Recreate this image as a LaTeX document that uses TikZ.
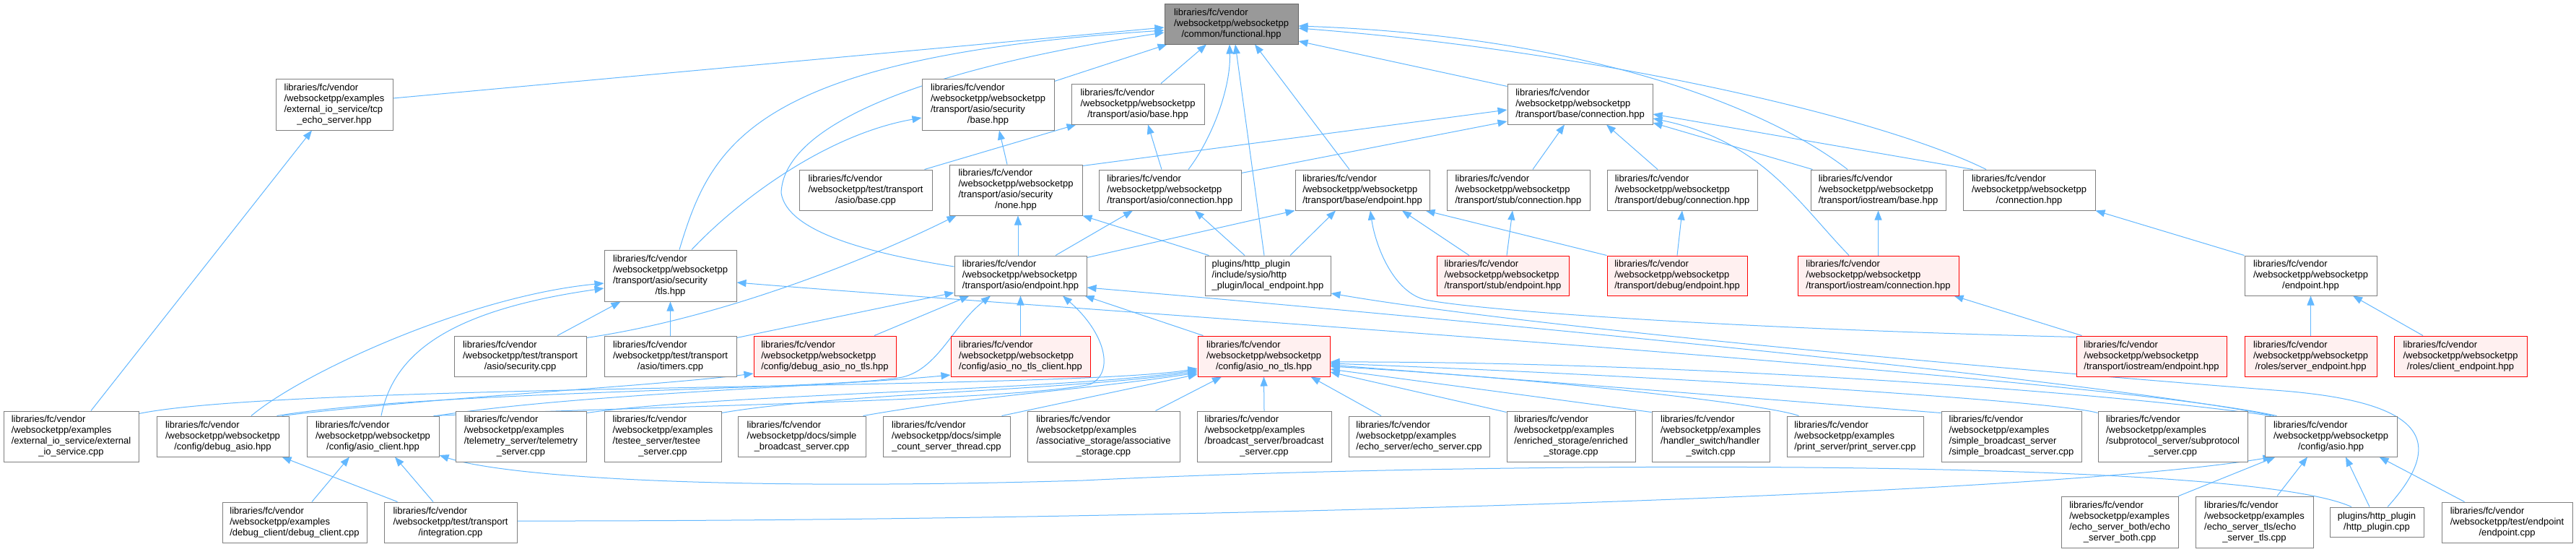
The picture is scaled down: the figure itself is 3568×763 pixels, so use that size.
\documentclass[tikz,border=0pt]{standalone}
\usepackage{fontspec}
\setmainfont{Liberation Sans}
\usetikzlibrary{arrows.meta}
\definecolor{edgeblue}{HTML}{63B8FF}
\definecolor{boxgray}{HTML}{7F7F7F}
\definecolor{topfill}{HTML}{999999}
\definecolor{topdraw}{HTML}{666666}
\definecolor{redfill}{HTML}{FFF0F0}
\definecolor{reddraw}{HTML}{FF0000}
\newcommand\lab[2]{\begin{tabular}{@{}l@{}}#1\\\multicolumn{1}{@{}c@{}}{#2}\end{tabular}}
\newcommand\nd[7]{\node[#1, minimum width={#4-#2}, minimum height={#5-#3}] (#6) at ({(#2+#4)/2},{(#3+#5)/2}) {#7};}
\newcommand\fcV{libraries/fc/vendor}
\newcommand\wsW{/websocketpp/websocketpp}
\newcommand\wsE{/websocketpp/examples}
\pgfdeclarelayer{bg}
\pgfsetlayers{bg,main}
\begin{document}
\begin{tikzpicture}[x=1pt,y=-1pt,
  box/.style={draw=boxgray, fill=white, line width=1pt, inner sep=0pt, font=\fontsize{13}{15}\selectfont},
  redbox/.style={box, draw=reddraw, fill=redfill},
  topbox/.style={box, draw=topdraw, fill=topfill},
  e/.style={draw=edgeblue, line width=1pt, -{Triangle[length=13pt,width=10pt]}}]
\useasboundingbox (0,0) rectangle (3568,763);
\begin{pgfonlayer}{bg}
\fill[white] (0,0) rectangle (3568,763);
\end{pgfonlayer}
% row 1
\nd{topbox}{1613}{5}{1798}{61}{fun}{\lab{\fcV\\\wsW}{/common/functional.hpp}}
% row 2
\nd{box}{382}{109}{544}{180}{tcp}{\lab{\fcV\\\wsE\\/external\_io\_service/tcp}{\_echo\_server.hpp}}
\nd{box}{1277}{109}{1460}{180}{secbase}{\lab{\fcV\\\wsW\\/transport/asio/security}{/base.hpp}}
\nd{box}{1484}{116}{1668}{172}{asiobase}{\lab{\fcV\\\wsW}{/transport/asio/base.hpp}}
\nd{box}{2088}{116}{2289}{172}{baseconn}{\lab{\fcV\\\wsW}{/transport/base/connection.hpp}}
% row 3
\nd{box}{1107}{235}{1291}{291}{basecpp}{\lab{\fcV\\/websocketpp/test/transport}{/asio/base.cpp}}
\nd{box}{1315}{228}{1499}{298}{none}{\lab{\fcV\\\wsW\\/transport/asio/security}{/none.hpp}}
\nd{box}{1522}{235}{1719}{291}{asioconn}{\lab{\fcV\\\wsW}{/transport/asio/connection.hpp}}
\nd{box}{1794}{235}{1980}{291}{baseep}{\lab{\fcV\\\wsW}{/transport/base/endpoint.hpp}}
\nd{box}{2004}{235}{2202}{291}{stubconn}{\lab{\fcV\\\wsW}{/transport/stub/connection.hpp}}
\nd{box}{2226}{235}{2434}{291}{debugconn}{\lab{\fcV\\\wsW}{/transport/debug/connection.hpp}}
\nd{box}{2508}{235}{2695}{291}{iosbase}{\lab{\fcV\\\wsW}{/transport/iostream/base.hpp}}
\nd{box}{2719}{235}{2902}{291}{conn}{\lab{\fcV\\\wsW}{/connection.hpp}}
% row 4
\nd{box}{837}{346}{1020}{417}{tls}{\lab{\fcV\\\wsW\\/transport/asio/security}{/tls.hpp}}
\nd{box}{1322}{354}{1505}{409}{asioep}{\lab{\fcV\\\wsW}{/transport/asio/endpoint.hpp}}
\nd{box}{1669}{354}{1843}{409}{localep}{\lab{plugins/http\_plugin\\/include/sysio/http}{\_plugin/local\_endpoint.hpp}}
\nd{redbox}{1990}{354}{2173}{409}{stubep}{\lab{\fcV\\\wsW}{/transport/stub/endpoint.hpp}}
\nd{redbox}{2226}{354}{2420}{409}{debugep}{\lab{\fcV\\\wsW}{/transport/debug/endpoint.hpp}}
\nd{redbox}{2490}{354}{2713}{409}{iosconn}{\lab{\fcV\\\wsW}{/transport/iostream/connection.hpp}}
\nd{box}{3109}{354}{3292}{409}{endpoint}{\lab{\fcV\\\wsW}{/endpoint.hpp}}
% row 5
\nd{box}{629}{465}{812}{521}{secpp}{\lab{\fcV\\/websocketpp/test/transport}{/asio/security.cpp}}
\nd{box}{837}{465}{1020}{521}{timers}{\lab{\fcV\\/websocketpp/test/transport}{/asio/timers.cpp}}
\nd{redbox}{1044}{465}{1241}{521}{dbgnotls}{\lab{\fcV\\\wsW}{/config/debug\_asio\_no\_tls.hpp}}
\nd{redbox}{1317}{465}{1510}{521}{notlscl}{\lab{\fcV\\\wsW}{/config/asio\_no\_tls\_client.hpp}}
\nd{redbox}{1659}{465}{1842}{521}{notls}{\lab{\fcV\\\wsW}{/config/asio\_no\_tls.hpp}}
\nd{redbox}{2876}{465}{3084}{521}{iosep}{\lab{\fcV\\\wsW}{/transport/iostream/endpoint.hpp}}
\nd{redbox}{3109}{465}{3292}{521}{srvep}{\lab{\fcV\\\wsW}{/roles/server\_endpoint.hpp}}
\nd{redbox}{3316}{465}{3500}{521}{cliep}{\lab{\fcV\\\wsW}{/roles/client\_endpoint.hpp}}
% row 6
\nd{box}{5}{569}{192}{639}{extio}{\lab{\fcV\\\wsE\\/external\_io\_service/external}{\_io\_service.cpp}}
\nd{box}{217}{576}{400}{632}{dbgasio}{\lab{\fcV\\\wsW}{/config/debug\_asio.hpp}}
\nd{box}{425}{576}{608}{632}{asiocl}{\lab{\fcV\\\wsW}{/config/asio\_client.hpp}}
\nd{box}{631}{569}{812}{639}{telem}{\lab{\fcV\\\wsE\\/telemetry\_server/telemetry}{\_server.cpp}}
\nd{box}{837}{569}{999}{639}{testee}{\lab{\fcV\\\wsE\\/testee\_server/testee}{\_server.cpp}}
\nd{box}{1022}{576}{1199}{632}{docsbs}{\lab{\fcV\\/websocketpp/docs/simple}{\_broadcast\_server.cpp}}
\nd{box}{1223}{576}{1399}{632}{scst}{\lab{\fcV\\/websocketpp/docs/simple}{\_count\_server\_thread.cpp}}
\nd{box}{1423}{569}{1634}{639}{assoc}{\lab{\fcV\\\wsE\\/associative\_storage/associative}{\_storage.cpp}}
\nd{box}{1658}{569}{1844}{639}{bcast}{\lab{\fcV\\\wsE\\/broadcast\_server/broadcast}{\_server.cpp}}
\nd{box}{1868}{576}{2063}{632}{echo}{\lab{\fcV\\\wsE}{/echo\_server/echo\_server.cpp}}
\nd{box}{2087}{569}{2265}{639}{enrich}{\lab{\fcV\\\wsE\\/enriched\_storage/enriched}{\_storage.cpp}}
\nd{box}{2288}{569}{2451}{639}{handler}{\lab{\fcV\\\wsE\\/handler\_switch/handler}{\_switch.cpp}}
\nd{box}{2475}{576}{2664}{632}{print}{\lab{\fcV\\\wsE}{/print\_server/print\_server.cpp}}
\nd{box}{2689}{569}{2883}{639}{sbs}{\lab{\fcV\\\wsE\\/simple\_broadcast\_server}{/simple\_broadcast\_server.cpp}}
\nd{box}{2906}{569}{3113}{639}{subp}{\lab{\fcV\\\wsE\\/subprotocol\_server/subprotocol}{\_server.cpp}}
\nd{box}{3137}{576}{3320}{632}{asio}{\lab{\fcV\\\wsW}{/config/asio.hpp}}
% row 7
\nd{box}{308}{695}{508}{751}{dbgcl}{\lab{\fcV\\\wsE}{/debug\_client/debug\_client.cpp}}
\nd{box}{532}{695}{716}{751}{integ}{\lab{\fcV\\/websocketpp/test/transport}{/integration.cpp}}
\nd{box}{2855}{687}{3017}{758}{both}{\lab{\fcV\\\wsE\\/echo\_server\_both/echo}{\_server\_both.cpp}}
\nd{box}{3041}{687}{3204}{758}{tlscpp}{\lab{\fcV\\\wsE\\/echo\_server\_tls/echo}{\_server\_tls.cpp}}
\nd{box}{3227}{702}{3357}{743}{httpcpp}{\lab{plugins/http\_plugin}{/http\_plugin.cpp}}
\nd{box}{3382}{695}{3563}{751}{epcpp}{\lab{\fcV\\/websocketpp/test/endpoint}{/endpoint.cpp}}
% bend points
\coordinate (k11) at (1082,267);
\coordinate (k32) at (1975,415);
\coordinate (k52) at (1250,522);
\coordinate (k53) at (1510,532);
\coordinate (k72) at (1500,665);
\coordinate (k78) at (3150,540);
\begin{pgfonlayer}{bg}
% into functional
\draw[e] ([yshift=8.5pt]tcp.east) -- ([yshift=-5pt]fun.west);
\draw[e] ([xshift=12.5pt]tls.north) .. controls (985,200) and (1040,80) .. ([yshift=-9pt]fun.west);
\draw[e] ([yshift=-4pt]secbase.north east) -- ([xshift=4pt]fun.south west);
\draw[e] ([xshift=32pt]asiobase.north) -- ([xshift=-34.5pt]fun.south);
\draw[e] ([xshift=25.5pt]asioconn.north) .. controls (1680,190) and (1705,120) .. ([xshift=-2.5pt]fun.south);
\draw[e] ([xshift=-5pt]localep.north) -- ([xshift=5.5pt]fun.south);
\draw[e] ([xshift=-18pt]baseep.north) -- ([xshift=32.5pt]fun.south);
\draw[e] ([yshift=-4pt]baseconn.north west) -- ([yshift=-24pt]fun.east);
\draw[e] ([xshift=-42.5pt]iosbase.north) .. controls (2450,150) and (2200,50) .. ([yshift=-3pt]fun.east);
\draw[e] ([xshift=-59.5pt]conn.north) .. controls (2600,160) and (2200,70) .. ([yshift=-6pt]fun.east);
\draw[e] ([yshift=12.5pt]asioep.west) .. controls (1200,350) and (1090,320) .. (k11) .. controls (1085,180) and (1250,100) .. ([yshift=-12pt]fun.west);
% secbase, asiobase
\draw[e] ([xshift=29.5pt]tls.north) .. controls (1030,270) and (1150,185) .. ([yshift=-18.5pt]secbase.west);
\draw[e] ([xshift=-12pt]none.north) -- ([xshift=15.5pt]secbase.south);
\draw[e] ([xshift=-11pt]basecpp.north east) -- ([xshift=7pt]asiobase.south west);
\draw[e] ([xshift=-11.5pt]asioconn.north) -- ([xshift=14pt]asiobase.south);
% baseconn
\draw[e] ([yshift=-2pt]none.north east) -- ([yshift=-8pt]baseconn.west);
\draw[e] ([yshift=-5pt]asioconn.north east) -- ([yshift=-24pt]baseconn.west);
\draw[e] ([xshift=20pt]stubconn.north) -- ([xshift=-21.5pt]baseconn.south);
\draw[e] ([xshift=-34pt]debugconn.north) -- ([xshift=36.5pt]baseconn.south);
\draw[e] ([xshift=14pt]conn.north west) -- ([yshift=-14pt]baseconn.east);
\draw[e] ([xshift=3pt]iosbase.north west) -- ([yshift=-26pt]baseconn.east);
\draw[e] ([xshift=-40.5pt]iosconn.north) .. controls (2490,280) and (2440,195) .. ([yshift=-20pt]baseconn.east);
% asioconn, none
\draw[e] ([xshift=48.5pt]asioep.north) -- ([xshift=-51.5pt]asioconn.south);
\draw[e] ([xshift=-32pt]localep.north) -- ([xshift=34.5pt]asioconn.south);
\draw[e] ([xshift=-3.5pt]asioep.north) -- ([xshift=3pt]none.south);
\draw[e] ([xshift=6pt]localep.north west) -- (none.south east);
\draw[e] ([yshift=-3pt]secpp.north east) .. controls (1000,440) and (1200,360) .. ([xshift=10pt]none.south west);
% baseep
\draw[e] ([yshift=-3pt]asioep.north east) -- (baseep.south west);
\draw[e] ([xshift=31pt]localep.north) -- ([xshift=-37pt]baseep.south);
\draw[e] ([xshift=-46.5pt]stubep.north) -- ([xshift=55pt]baseep.south);
\draw[e] (debugep.north west) -- ([xshift=-6pt]baseep.south east);
\draw[e] ([yshift=-2pt]iosep.north west) .. controls (2400,455) and (2050,430) .. (k32) .. controls (1930,405) and (1905,340) .. ([xshift=11pt]baseep.south);
% stub/debug/iostream/endpoint
\draw[e] ([xshift=5.5pt]stubep.north) -- ([xshift=-8pt]stubconn.south);
\draw[e] (debugep.north) -- (debugconn.south);
\draw[e] (iosconn.north) -- (iosbase.south);
\draw[e] (endpoint.north west) -- (conn.south east);
\draw[e] (srvep.north) -- (endpoint.south);
\draw[e] ([xshift=-52pt]cliep.north) -- ([xshift=58.5pt]endpoint.south);
\draw[e] ([xshift=8pt]iosep.north west) -- ([xshift=-7pt]iosconn.south east);
% tcp, tls
\draw[e] ([xshift=27.5pt]extio.north) -- ([xshift=-31pt]tcp.south);
\draw[e] ([xshift=51.5pt]secpp.north) -- ([xshift=23pt]tls.south west);
\draw[e] (timers.north) -- (tls.south);
\draw[e] ([xshift=39.5pt]dbgasio.north) .. controls (420,515) and (650,410) .. ([yshift=-10.5pt]tls.west);
\draw[e] ([xshift=11.5pt]asiocl.north) .. controls (545,490) and (620,430) .. ([yshift=-17.5pt]tls.west);
\draw[e] ([xshift=17pt]asio.north west) .. controls (2900,520) and (1500,430) .. ([yshift=-9.5pt]tls.east);
% asioep
\draw[e] ([xshift=13pt]asio.north west) .. controls (2900,525) and (2000,440) .. ([yshift=-16.5pt]asioep.east);
\draw[e] ([yshift=-3pt]timers.north east) -- ([yshift=-23.5pt]asioep.west);
\draw[e] ([xshift=68.5pt]dbgnotls.north) -- ([xshift=21pt]asioep.south west);
\draw[e] (notlscl.north) -- (asioep.south);
\draw[e] ([xshift=8pt]notls.north west) -- ([xshift=-3pt]asioep.south east);
\draw[e] ([xshift=-17pt]dbgasio.north east) .. controls (600,540) and (1150,540) .. (k52) .. controls (1300,510) and (1320,450) .. ([xshift=-41.5pt]asioep.south);
\draw[e] ([xshift=-8pt]asiocl.north east) .. controls (900,562) and (1400,555) .. (k53) .. controls (1545,515) and (1530,460) .. ([xshift=58.5pt]asioep.south);
% debug_asio_no_tls, asio_no_tls_client
\draw[e] ([xshift=-10pt]dbgasio.north east) .. controls (600,550) and (900,535) .. ([yshift=-24pt]dbgnotls.west);
\draw[e] ([xshift=-4pt]asiocl.north east) .. controls (800,545) and (1150,535) .. ([yshift=-26pt]notlscl.west);
% asio_no_tls
\draw[e] ([xshift=9pt]asio.north west) .. controls (2900,540) and (2300,500) .. ([yshift=-8pt]notls.east);
\draw[e] ([yshift=-4pt]extio.north east) .. controls (400,530) and (1480,540) .. ([yshift=-17pt]notls.west);
\draw[e] ([yshift=-3pt]telem.north east) .. controls (1000,545) and (1480,540) .. ([yshift=-19pt]notls.west);
\draw[e] ([yshift=-3pt]testee.north east) .. controls (1150,545) and (1490,540) .. ([yshift=-21pt]notls.west);
\draw[e] ([xshift=-4pt]docsbs.north east) .. controls (1350,548) and (1500,540) .. ([yshift=-23pt]notls.west);
\draw[e] ([xshift=-12pt]scst.north east) -- ([yshift=-25pt]notls.west);
\draw[e] ([xshift=-34pt]assoc.north east) -- ([xshift=-58.5pt]notls.south);
\draw[e] (bcast.north) -- (notls.south);
\draw[e] ([xshift=-52.5pt]echo.north) -- ([xshift=-27pt]notls.south east);
\draw[e] ([yshift=-2pt]enrich.north west) -- ([yshift=-22pt]notls.east);
\draw[e] ([yshift=-2pt]handler.north west) -- ([yshift=-18pt]notls.east);
\draw[e] ([xshift=17pt]print.north west) .. controls (2450,560) and (2150,525) .. ([yshift=-14pt]notls.east);
\draw[e] ([yshift=-3pt]sbs.north west) -- ([yshift=-12pt]notls.east);
\draw[e] ([yshift=-3pt]subp.north west) .. controls (2850,555) and (2300,520) .. ([yshift=-10pt]notls.east);
% lower configs
\draw[e] ([xshift=19pt]integ.north west) -- ([xshift=-10pt]dbgasio.south east);
\draw[e] ([xshift=24pt]dbgcl.north) -- ([xshift=-32.5pt]asiocl.south);
\draw[e] ([xshift=-24pt]integ.north) -- ([xshift=30.5pt]asiocl.south);
\draw[e] ([xshift=-35pt]httpcpp.north) .. controls (3100,630) and (2000,640) .. (k72) .. controls (1000,680) and (700,660) .. ([yshift=-26pt]asiocl.east);
% config/asio
\draw[e] ([yshift=2pt]integ.east) .. controls (1500,722) and (2800,690) .. ([xshift=11pt]asio.south west);
\draw[e] (both.north east) -- ([xshift=15pt]asio.south west);
\draw[e] ([xshift=31.5pt]tlscpp.north) -- ([xshift=-32.5pt]asio.south);
\draw[e] ([xshift=-10pt]httpcpp.north) -- ([xshift=20.5pt]asio.south);
\draw[e] ([xshift=32pt]epcpp.north west) -- ([xshift=-25pt]asio.south east);
% local endpoint
\draw[e] ([xshift=15pt]httpcpp.north) .. controls (3390,610) and (3360,555) .. (k78) .. controls (2700,505) and (2100,450) .. ([yshift=-24.5pt]localep.east);
\end{pgfonlayer}
\end{tikzpicture}
\end{document}
